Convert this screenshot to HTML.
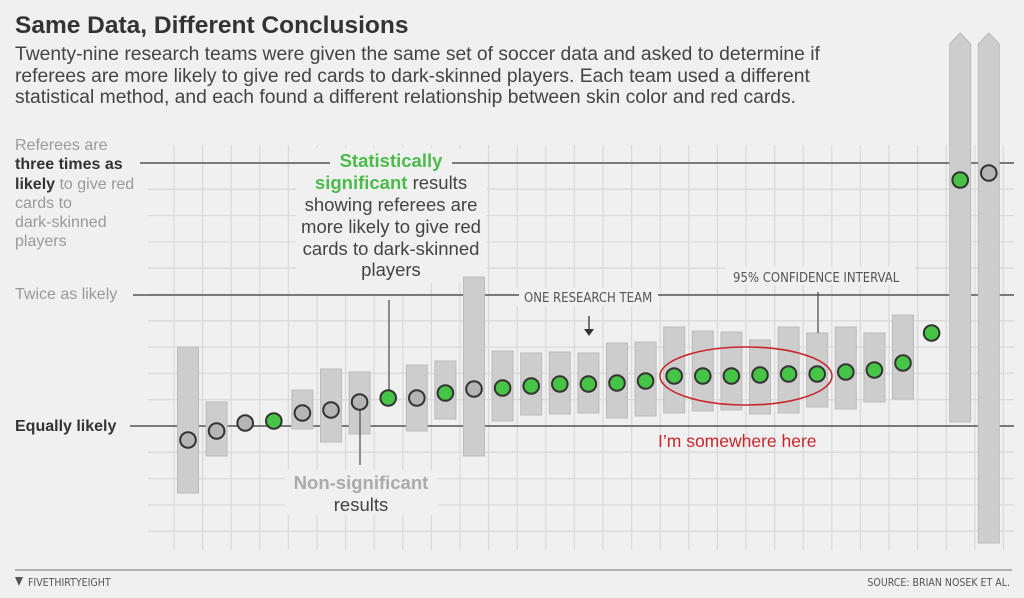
<!DOCTYPE html>
<html><head><meta charset="utf-8"><style>
body{margin:0;background:#f0f0f0;}
svg{display:block;font-family:"Liberation Sans",sans-serif;}
</style></head><body>
<svg width="1024" height="598" viewBox="0 0 1024 598">
<rect width="1024" height="598" fill="#f0f0f0"/>
<g id="grid" stroke="#dadada" stroke-width="1.3"></g>
<g id="main"></g>
<text x="15" y="33" font-size="24.5" font-weight="bold" fill="#333">Same Data, Different Conclusions</text>
<g font-size="19.3" fill="#444">
<text x="15" y="60">Twenty-nine research teams were given the same set of soccer data and asked to determine if</text>
<text x="15" y="82">referees are more likely to give red cards to dark-skinned players. Each team used a different</text>
<text x="15" y="103">statistical method, and each found a different relationship between skin color and red cards.</text>
</g>
<g font-size="16" fill="#999">
<text x="15" y="150">Referees are</text>
<text x="15" y="169"><tspan font-weight="bold" fill="#333">three times as</tspan></text>
<text x="15" y="189"><tspan font-weight="bold" fill="#333">likely</tspan> to give red</text>
<text x="15" y="208">cards to</text>
<text x="15" y="227">dark-skinned</text>
<text x="15" y="246">players</text>
<text x="15" y="299">Twice as likely</text>
</g>
<text x="15" y="431" font-size="16" font-weight="bold" fill="#333">Equally likely</text>
<g font-size="18.5" fill="#444" text-anchor="middle">
<text x="391" y="167" font-weight="bold" fill="#4cbb4c">Statistically</text>
<text x="391" y="189"><tspan font-weight="bold" fill="#4cbb4c">significant</tspan> results</text>
<text x="391" y="211">showing referees are</text>
<text x="391" y="233">more likely to give red</text>
<text x="391" y="255">cards to dark-skinned</text>
<text x="391" y="276">players</text>
<text x="361" y="489" font-weight="bold" fill="#aaa">Non-significant</text>
<text x="361" y="511">results</text>
</g>
<g font-size="13" fill="#555" font-family="'DejaVu Sans Condensed','Liberation Sans Narrow',sans-serif">
<text x="524" y="302">ONE RESEARCH TEAM</text>
<text x="733" y="282">95% CONFIDENCE INTERVAL</text>
</g>
<text x="658" y="447" font-size="17.5" fill="#c8262b">I’m somewhere here</text>
<line x1="15" y1="570" x2="1012" y2="570" stroke="#999" stroke-width="1.5"/>
<text x="28" y="586" font-size="10.5" fill="#555" font-family="'DejaVu Sans Condensed',sans-serif">FIVETHIRTYEIGHT</text>
<path d="M15 577 l8 0 l-4 9z" fill="#555"/>
<text x="1010" y="586" font-size="10.5" fill="#555" text-anchor="end" font-family="'DejaVu Sans Condensed',sans-serif">SOURCE: BRIAN NOSEK ET AL.</text>
</svg>
<script>
const ns="http://www.w3.org/2000/svg";
function el(p,t,a){const e=document.createElementNS(ns,t);for(const k in a)e.setAttribute(k,a[k]);p.appendChild(e);return e;}
const g=document.getElementById('grid'),m=document.getElementById('main');
for(let i=0;i<15;i++){const y=163+26.3*i;el(g,'line',{x1:148,x2:1014,y1:y,y2:y});}
for(let i=0;i<30;i++){const x=174+28.6*i;el(g,'line',{x1:x,x2:x,y1:145,y2:550});}
[[296,148,190,135],[305,280,112,14],[285,470,152,45],[515,288,145,18],[725,267,190,18]].forEach(r=>el(m,'rect',{x:r[0],y:r[1],width:r[2],height:r[3],fill:'#f0f0f0'}));
[[163,140,330],[163,452,1014],[295,133,519],[295,658,1014],[426,130,1014]].forEach(l=>el(m,'line',{x1:l[1],x2:l[2],y1:l[0],y2:l[0],stroke:'#555','stroke-width':1.4}));
const d=[[347,493,440,0],[402,456,431,0],[0,0,423,0],[0,0,421,1],[390,429,413,0],[369,442,410,0],[372,434,402,0],[0,0,398,1],[365,431,398,0],[361,419,393,1],[277,456,389,0],[351,421,388,1],[353,415,386,1],[352,414,384,1],[353,413,384,1],[343,418,383,1],[342,416,381,1],[327,413,376,1],[331,411,376,1],[332,410,376,1],[340,414,375,1],[327,413,374,1],[333,407,374,1],[327,409,372,1],[333,402,370,1],[315,399,363,1],[0,0,333,1],[44,422,180,1],[44,543,173,0]];
d.forEach((v,i)=>{const x=188+28.6*i;
 if(i>=27){el(m,'path',{d:`M${x-10.5} ${v[1]} V${v[0]} L${x} 33 L${x+10.5} ${v[0]} V${v[1]}Z`,fill:'#cdcdcd',stroke:'#bbb'});}
 else if(v[1])el(m,'rect',{x:x-10.5,y:v[0],width:21,height:v[1]-v[0],fill:'#cdcdcd',stroke:'#bbb'});});
el(m,'line',{x1:389,x2:389,y1:300,y2:398,stroke:'#555','stroke-width':1.3});
el(m,'line',{x1:360,x2:360,y1:402,y2:465,stroke:'#555','stroke-width':1.3});
el(m,'line',{x1:818,x2:818,y1:292,y2:333,stroke:'#555','stroke-width':1.3});
el(m,'line',{x1:589,x2:589,y1:316,y2:330,stroke:'#333','stroke-width':1.3});
el(m,'path',{d:'M584 329 L594 329 L589 336Z',fill:'#333'});
d.forEach((v,i)=>{const x=188+28.6*i;el(m,'circle',{cx:x,cy:v[2],r:7.8,fill:v[3]?'#45c445':'#b5b5b5',stroke:'#333','stroke-width':2});});
el(m,'ellipse',{cx:746,cy:376,rx:86,ry:29,fill:'none',stroke:'#c8262b','stroke-width':1.6});
</script>
</body></html>
